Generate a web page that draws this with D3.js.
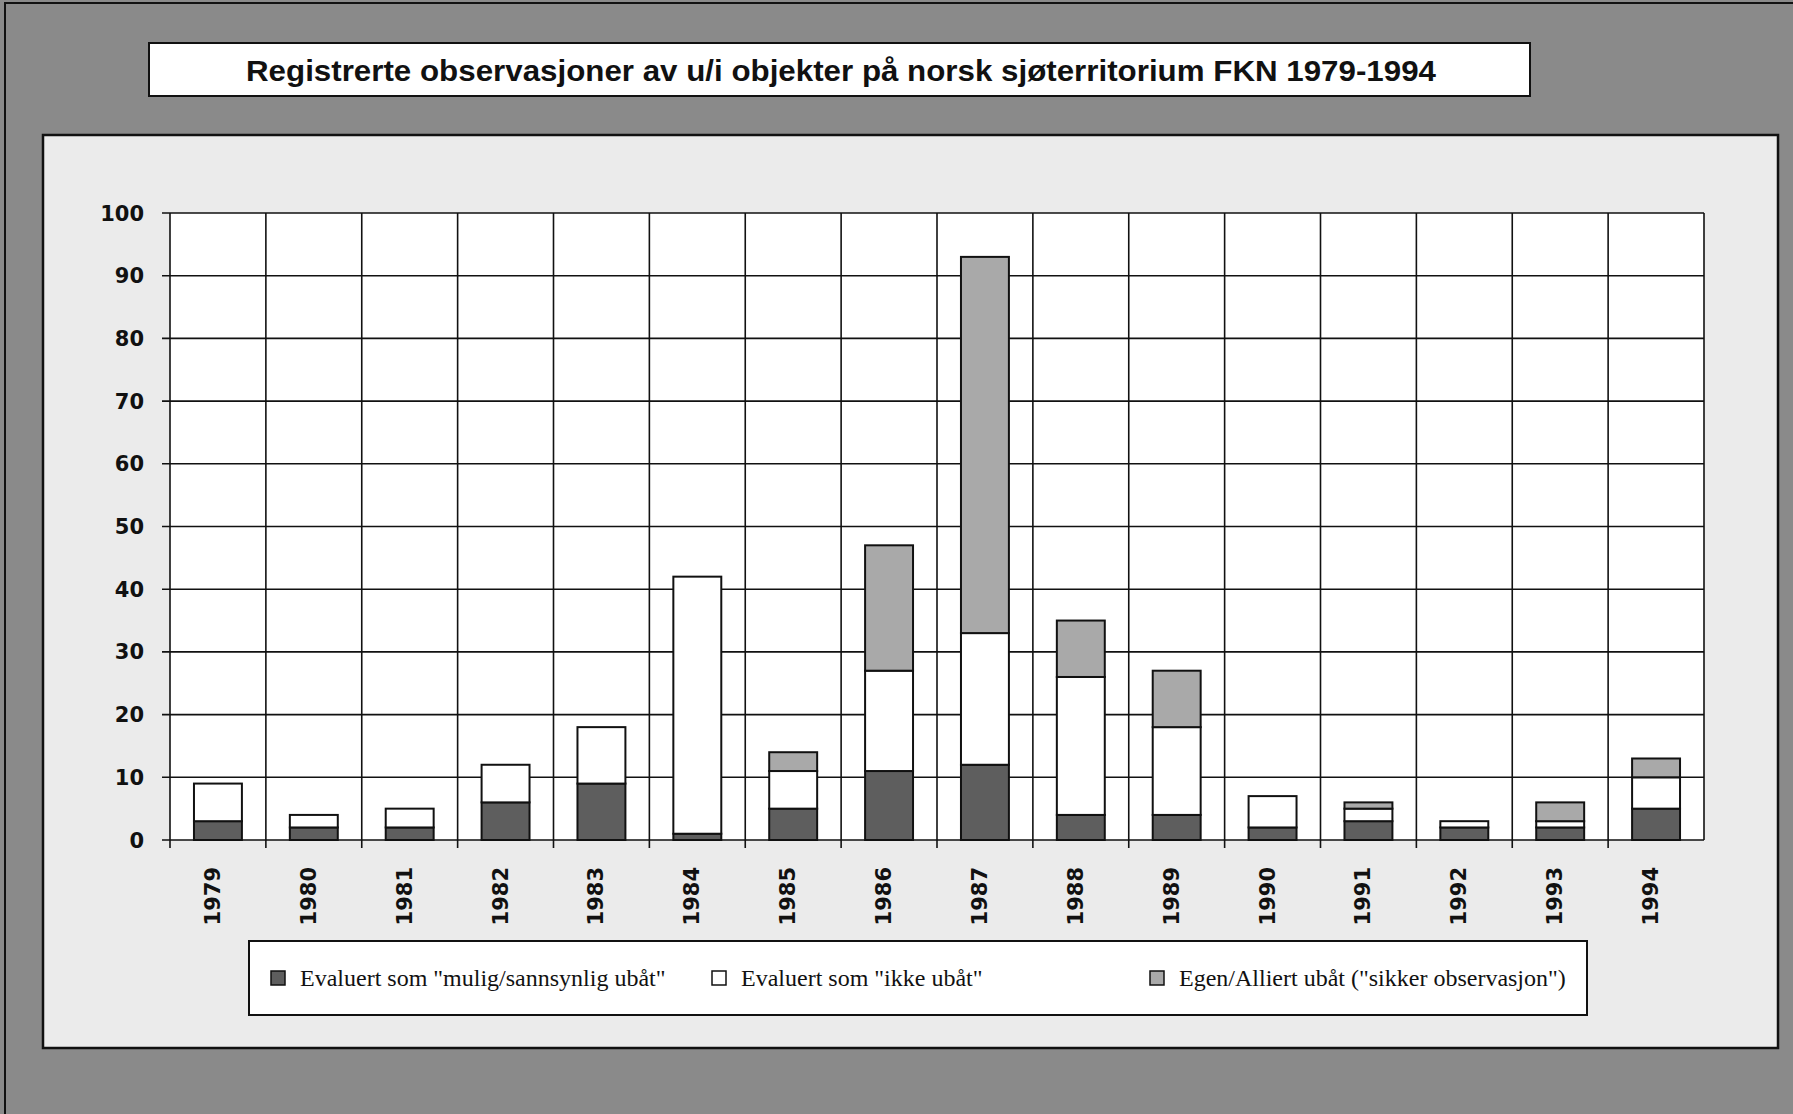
<!DOCTYPE html>
<html>
<head>
<meta charset="utf-8">
<script src="https://cdn.jsdelivr.net/npm/d3@7"></script>
<style>
  html, body { margin: 0; padding: 0; background: #8a8a8a; }
  svg { display: block; }
</style>
</head>
<body>
<svg id="chart" width="1793" height="1114"></svg>
<script>
// chart values
const years = ["1979", "1980", "1981", "1982", "1983", "1984", "1985", "1986",
  "1987", "1988", "1989", "1990", "1991", "1992", "1993", "1994"];
const mulig = [3, 2, 2, 6, 9, 1, 5, 11, 12, 4, 4, 2, 3, 2, 2, 5];
const ikke = [6, 2, 3, 6, 9, 41, 6, 16, 21, 22, 14, 5, 2, 1, 1, 5];
const egen = [0, 0, 0, 0, 0, 0, 3, 20, 60, 9, 9, 0, 1, 0, 3, 3];
const yTicks = [0, 10, 20, 30, 40, 50, 60, 70, 80, 90, 100];
const title = "Registrerte observasjoner av u/i objekter på norsk sjøterritorium FKN 1979-1994";
const seriesNames = ["mulig", "ikke", "egen"];
const legendLabels = [
  'Evaluert som "mulig/sannsynlig ubåt"',
  'Evaluert som "ikke ubåt"',
  'Egen/Alliert ubåt ("sikker observasjon")',
];
const fills = { mulig: "#5e5e5e", ikke: "#ffffff", egen: "#a9a9a9" };

const svg = d3.select("#chart");
const W = 1793, H = 1114;
const plot = { left: 170, right: 1704, top: 213, bottom: 840 };

// background frame + inner panel
svg.append("rect").attr("width", W).attr("height", H).attr("fill", "#8a8a8a");
svg.append("rect")
  .attr("x", 5).attr("y", 3).attr("width", W).attr("height", H)
  .attr("fill", "none").attr("stroke", "#111").attr("stroke-width", 2);
svg.append("rect")
  .attr("x", 43).attr("y", 135).attr("width", 1735).attr("height", 913)
  .attr("fill", "#ebebeb").attr("stroke", "#111").attr("stroke-width", 2.5);

// title box
svg.append("rect")
  .attr("x", 149).attr("y", 43).attr("width", 1381).attr("height", 53)
  .attr("fill", "#fff").attr("stroke", "#111").attr("stroke-width", 2);
svg.append("text")
  .attr("x", 841).attr("y", 81)
  .attr("text-anchor", "middle")
  .attr("font-family", "'Liberation Sans', Arial, sans-serif")
  .attr("font-weight", "bold")
  .attr("font-size", 29)
  .attr("textLength", 1190)
  .attr("lengthAdjust", "spacingAndGlyphs")
  .attr("fill", "#111")
  .text(title);

// scales
const x = d3.scaleBand()
  .domain(years)
  .range([plot.left, plot.right])
  .paddingInner(0.5)
  .paddingOuter(0.25);
const y = d3.scaleLinear().domain([0, 100]).range([plot.bottom, plot.top]);

// plot area
svg.append("rect")
  .attr("x", plot.left).attr("y", plot.top)
  .attr("width", plot.right - plot.left).attr("height", plot.bottom - plot.top)
  .attr("fill", "#fff");

const grid = svg.append("g").attr("stroke", "#111").attr("stroke-width", 1.6);
grid.selectAll("line.h")
  .data(yTicks)
  .join("line")
  .attr("class", "h")
  .attr("x1", plot.left - 8).attr("x2", plot.right)
  .attr("y1", (d) => y(d)).attr("y2", (d) => y(d));

const step = x.step();
grid.selectAll("line.v")
  .data(d3.range(years.length + 1))
  .join("line")
  .attr("class", "v")
  .attr("x1", (i) => plot.left + i * step).attr("x2", (i) => plot.left + i * step)
  .attr("y1", plot.top).attr("y2", (i) => (i === years.length ? plot.bottom : plot.bottom + 8));

// y labels
svg.append("g")
  .selectAll("text")
  .data(yTicks)
  .join("text")
  .attr("x", 144)
  .attr("y", (d) => y(d))
  .attr("dy", "0.36em")
  .attr("text-anchor", "end")
  .attr("font-family", "'DejaVu Sans', sans-serif")
  .attr("font-weight", "bold")
  .attr("font-size", 21)
  .attr("fill", "#111")
  .text((d) => d);

// x labels, rotated
svg.append("g")
  .selectAll("text")
  .data(years)
  .join("text")
  .attr("transform", (d) => `translate(${x(d) + x.bandwidth() / 2 + 2},867) rotate(-90)`)
  .attr("text-anchor", "end")
  .attr("font-family", "'DejaVu Sans', sans-serif")
  .attr("font-weight", "bold")
  .attr("font-size", 21)
  .attr("fill", "#111")
  .text((d) => d);

// stacked bars
const rows = years.map((yr, i) => ({ year: yr, mulig: mulig[i], ikke: ikke[i], egen: egen[i] }));
const stacked = d3.stack().keys(seriesNames)(rows);

svg.append("g")
  .selectAll("g")
  .data(stacked)
  .join("g")
  .attr("fill", (s) => fills[s.key])
  .selectAll("rect")
  .data((s) => s.filter((d) => d[1] > d[0]))
  .join("rect")
  .attr("x", (d) => x(d.data.year))
  .attr("width", x.bandwidth())
  .attr("y", (d) => y(d[1]))
  .attr("height", (d) => y(d[0]) - y(d[1]))
  .attr("stroke", "#111")
  .attr("stroke-width", 2);

// legend
const legend = svg.append("g");
legend.append("rect")
  .attr("x", 249).attr("y", 941).attr("width", 1338).attr("height", 74)
  .attr("fill", "#fff").attr("stroke", "#111").attr("stroke-width", 2);
const legendX = [271, 712, 1150];
const items = legend.selectAll("g.item")
  .data(seriesNames)
  .join("g")
  .attr("class", "item")
  .attr("transform", (d, i) => `translate(${legendX[i]},978)`);
items.append("rect")
  .attr("x", 0).attr("y", -7).attr("width", 14).attr("height", 14)
  .attr("fill", (d) => fills[d]).attr("stroke", "#111").attr("stroke-width", 1.5);
items.append("text")
  .attr("x", 29).attr("y", 0).attr("dy", "0.34em")
  .attr("font-family", "'Liberation Serif', 'Times New Roman', serif")
  .attr("font-size", 24)
  .attr("fill", "#111")
  .text((d, i) => legendLabels[i]);
</script>
</body>
</html>
